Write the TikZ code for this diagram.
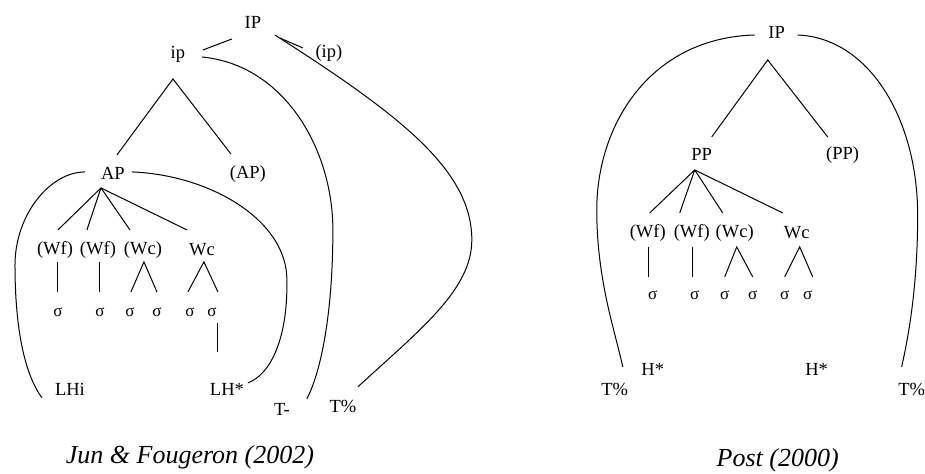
\documentclass[tikz,border=0pt]{standalone}
\usepackage{fontspec}
\setmainfont{Liberation Serif}
\usetikzlibrary{calc}

\begin{document}
\begin{tikzpicture}[
  x=1pt, y=-1pt,
  lab/.style={font=\fontsize{18.5}{18.5}\selectfont, inner sep=0pt},
  syl/.style={font=\fontsize{17}{17}\selectfont, inner sep=0pt},
  capt/.style={font=\fontsize{26}{26}\selectfont\itshape, inner sep=0pt},
  branch/.style={line width=1pt}
]
\fill[white] (0,0) rectangle (925,474);

% Jun & Fougeron (2002)
\node[lab] (IPa) at (253,22) {IP};
\node[lab] (ipa) at (178,54) {ip};
\node[lab] (ipo) at (329,53) {(ip)};
\node[lab] (APa) at (113,173) {AP};
\node[lab] (APo) at (248,174) {(AP)};
\node[lab] (Wf1) at (55,250) {(Wf)};
\node[lab] (Wf2) at (98,250) {(Wf)};
\node[lab] (Wc1) at (143,250) {(Wc)};
\node[lab] (Wc2) at (202,250) {Wc};
\node[syl] (s1) at (58,312) {σ};
\node[syl] (s2) at (100,312) {σ};
\node[syl] (s3) at (130,312) {σ};
\node[syl] (s4) at (157,312) {σ};
\node[syl] (s5) at (190,312) {σ};
\node[syl] (s6) at (212,312) {σ};
\node[lab] (LHi) at (70,390) {LHi};
\node[lab] (LHs) at (227,390) {LH*};
\node[lab] (Tm) at (282,410) {T-};
\node[lab] (Tp) at (343,407) {T\%};
\node[capt] (cap1) at (190,457) {Jun \& Fougeron (2002)};

\draw[branch] ($(IPa)+(-21,17)$) -- ($(ipa)+(25,-4)$);
\draw[branch] ($(IPa)+(27,16)$) -- ($(ipo)+(-26,-5)$);
\draw[branch] ($(APa)+(4,-18)$) -- ($(ipa)+(-5,25)$) -- ($(APo)+(-17,-20)$);
\draw[branch] ($(APa)+(-12,15)$) -- ($(Wf1)+(3,-20)$);
\draw[branch] ($(APa)+(-12,15)$) -- ($(Wf2)+(-11,-20)$);
\draw[branch] ($(APa)+(-12,15)$) -- ($(Wc1)+(-13,-20)$);
\draw[branch] ($(APa)+(-12,15)$) -- ($(Wc2)+(-15,-20)$);
\draw[branch] ($(Wf1)+(3,12)$) -- ($(s1)+(0,-20)$);
\draw[branch] ($(Wf2)+(2,12)$) -- ($(s2)+(0,-20)$);
\draw[branch] ($(s3)+(1,-20)$) -- ($(Wc1)+(1,12)$) -- ($(s4)+(0,-20)$);
\draw[branch] ($(s5)+(-2,-20)$) -- ($(Wc2)+(2,12)$) -- ($(s6)+(6,-20)$);
\draw[branch] ($(s6)+(6,11)$) -- ($(LHs)+(-9,-38)$);

% domains
\draw[branch] ($(IPa)+(22,13)$) .. controls (400,115) and (472,170) .. (472,240)
  .. controls (472,290) and (420,330) .. ($(Tp)+(15,-20)$);
\draw[branch] ($(ipa)+(24,3)$) .. controls (285,65) and (333,150) .. (333,230)
  .. controls (333,310) and (322,370) .. ($(Tm)+(25,-11)$);
\draw[branch] ($(APa)+(19,-1)$) .. controls (210,175) and (287,220) .. (287,280)
  .. controls (288,340) and (270,375) .. ($(LHs)+(21,-7)$);
\draw[branch] ($(APa)+(-28,-1)$) .. controls (50,172) and (15,215) .. (15,265)
  .. controls (15,330) and (25,375) .. ($(LHi)+(-28,8)$);

% Post (2000)
\node[lab] (IPb) at (777,32) {IP};
\node[lab] (PPa) at (702,155) {PP};
\node[lab] (PPo) at (843,155) {(PP)};
\node[lab] (Wf3) at (648,233) {(Wf)};
\node[lab] (Wf4) at (692,233) {(Wf)};
\node[lab] (Wc3) at (735,233) {(Wc)};
\node[lab] (Wc4) at (797,233) {Wc};
\node[syl] (t1) at (653,295) {σ};
\node[syl] (t2) at (695,295) {σ};
\node[syl] (t3) at (725,295) {σ};
\node[syl] (t4) at (753,295) {σ};
\node[syl] (t5) at (785,295) {σ};
\node[syl] (t6) at (808,295) {σ};
\node[lab] (Hs1) at (653,370) {H*};
\node[lab] (Hs2) at (817,370) {H*};
\node[lab] (TpL) at (615,390) {T\%};
\node[lab] (TpR) at (912,390) {T\%};
\node[capt] (cap2) at (778,460) {Post (2000)};

\draw[branch] ($(PPa)+(10,-18)$) -- ($(IPb)+(-9,28)$) -- ($(PPo)+(-15,-18)$);
\draw[branch] ($(PPa)+(-7,15)$) -- ($(Wf3)+(2,-20)$);
\draw[branch] ($(PPa)+(-7,15)$) -- ($(Wf4)+(-12,-20)$);
\draw[branch] ($(PPa)+(-7,15)$) -- ($(Wc3)+(-12,-20)$);
\draw[branch] ($(PPa)+(-7,15)$) -- ($(Wc4)+(-14,-20)$);
\draw[branch] ($(Wf3)+(1,14)$) -- ($(t1)+(-4,-18)$);
\draw[branch] ($(Wf4)+(1,14)$) -- ($(t2)+(-2,-18)$);
\draw[branch] ($(t3)+(0,-18)$) -- ($(Wc3)+(2,14)$) -- ($(t4)+(0,-18)$);
\draw[branch] ($(t5)+(0,-18)$) -- ($(Wc4)+(3,14)$) -- ($(t6)+(5,-18)$);

\draw[branch] ($(IPb)+(-22,3)$) .. controls (650,38) and (597,125) .. (597,210)
  .. controls (597,280) and (615,330) .. ($(TpL)+(8,-23)$);
\draw[branch] ($(IPb)+(21,3)$) .. controls (870,38) and (918,120) .. (918,215)
  .. controls (918,290) and (908,340) .. ($(TpR)+(-10,-23)$);
\end{tikzpicture}
\end{document}
